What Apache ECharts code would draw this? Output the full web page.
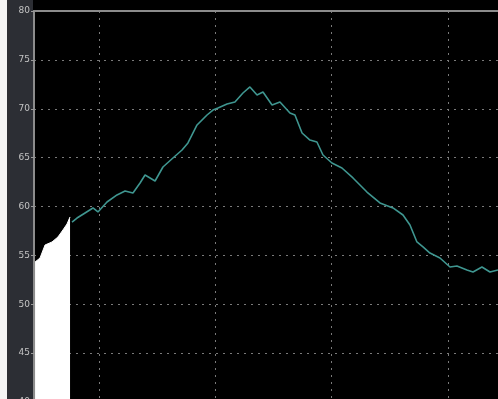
<!DOCTYPE html>
<html>
<head>
<meta charset="utf-8">
<script src="https://cdn.jsdelivr.net/npm/echarts@6/dist/echarts.min.js"></script>
<style>
  html, body { margin: 0; padding: 0; background: #000; }
  #chart { width: 498px; height: 399px; }
</style>
</head>
<body>
<div id="chart"></div>
<script>
// Time in minutes (grid every 10) and measured level
const fillX = [4.50, 4.93, 5.36, 5.96, 6.47, 6.90, 7.25, 7.51];
const fillY = [54.32, 54.73, 56.06, 56.37, 56.88, 57.60, 58.21, 58.93];

const traceX = [7.68, 8.11, 8.80, 9.48, 9.91, 10.69, 11.55, 12.24, 12.92, 13.53,
  13.96, 14.82, 15.50, 16.36, 17.14, 17.65, 18.43, 19.29, 19.80, 20.23,
  21.01, 21.69, 22.38, 22.98, 23.59, 24.10, 24.88, 25.56, 26.42, 26.85,
  27.46, 28.14, 28.74, 29.26, 30.03, 30.89, 31.84, 33.04, 34.16, 35.28,
  36.14, 36.74, 37.34, 37.86, 38.46, 39.32, 40.18, 40.78, 41.64, 42.16,
  42.93, 43.62, 44.31];
const traceY = [58.41, 58.82, 59.34, 59.85, 59.44, 60.46, 61.18, 61.59, 61.38, 62.40,
  63.22, 62.61, 64.04, 64.96, 65.78, 66.50, 68.34, 69.36, 69.87, 70.08,
  70.49, 70.69, 71.61, 72.23, 71.41, 71.71, 70.38, 70.69, 69.57, 69.36,
  67.52, 66.80, 66.60, 65.27, 64.45, 63.94, 62.92, 61.48, 60.36, 59.85,
  59.13, 58.11, 56.37, 55.86, 55.24, 54.73, 53.81, 53.91, 53.50, 53.30,
  53.81, 53.30, 53.50];

const yMin = 40, yMax = 80, yStep = 5;
const tMin = 0, tMax = 44.31, tStep = 10;

const zip = (xs, ys) => xs.map((x, i) => [x, ys[i]]);
const dotted = { color: '#7a7a7a', width: 1, type: [2, 5] };

const chart = echarts.init(document.getElementById('chart'), null, { renderer: 'canvas' });
chart.setOption({
  backgroundColor: '#000',
  animation: false,
  graphic: [
    { type: 'rect', z: -10, shape: { x: 0, y: 0, width: 7, height: 399 }, style: { fill: '#f4f4f4' } },
    { type: 'rect', z: -10, shape: { x: 7, y: 0, width: 26, height: 399 }, style: { fill: '#2c2e34' } }
  ],
  grid: [
    { left: -17.3, right: 0, top: 11, bottom: -3, outerBoundsMode: 'none', containLabel: false },
    { left: 34, right: 0, top: 11, bottom: -3, outerBoundsMode: 'none', containLabel: false }
  ],
  xAxis: [
    {
      type: 'value', gridIndex: 0, min: tMin, max: tMax, interval: tStep,
      axisLine: { show: false }, axisTick: { show: false }, axisLabel: { show: false },
      splitLine: { show: true, lineStyle: dotted }
    },
    {
      type: 'value', gridIndex: 1, position: 'top', min: 0, max: 1,
      axisLine: { show: true, lineStyle: { color: '#8c8c8c', width: 2 } },
      axisTick: { show: false }, axisLabel: { show: false }, splitLine: { show: false }
    }
  ],
  yAxis: [
    {
      type: 'value', gridIndex: 0, min: yMin, max: yMax, show: false,
      splitLine: { show: false }
    },
    {
      type: 'value', gridIndex: 1, min: yMin, max: yMax, interval: yStep,
      axisLine: { show: true, lineStyle: { color: '#8c8c8c', width: 2 } },
      axisTick: { show: true, length: 3, lineStyle: { color: '#9a9a9a' } },
      axisLabel: { color: '#c4c4c4', fontSize: 9, margin: 4, fontFamily: 'DejaVu Sans' },
      splitLine: { show: true, lineStyle: dotted }
    }
  ],
  series: [
    {
      type: 'line', xAxisIndex: 0, yAxisIndex: 0,
      data: zip(fillX, fillY), showSymbol: false,
      lineStyle: { color: '#ffffff', width: 1 },
      areaStyle: { color: '#ffffff', opacity: 1, origin: 'start' },
      z: 3
    },
    {
      type: 'line', xAxisIndex: 0, yAxisIndex: 0,
      data: zip(traceX, traceY), showSymbol: false,
      lineStyle: { color: '#3f9690', width: 1.6 },
      z: 4
    }
  ]
});
</script>
</body>
</html>
